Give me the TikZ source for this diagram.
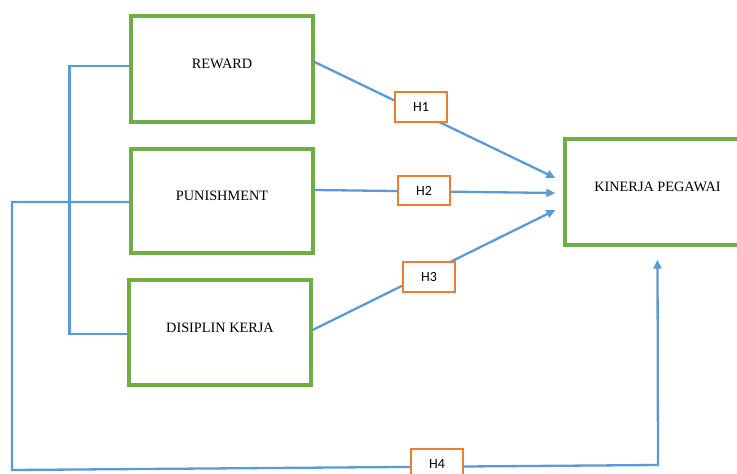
\documentclass[tikz,border=0pt]{standalone}
\usepackage{fontspec}
\setmainfont{Liberation Serif}
\newfontfamily\hfont{Carlito}
\usetikzlibrary{arrows.meta,calc}
\definecolor{vgreen}{RGB}{112,173,71}
\definecolor{vblue}{RGB}{91,155,213}
\definecolor{vorange}{RGB}{237,125,49}
\newcommand{\uptext}[1]{\raisebox{10pt}{#1}}
\begin{document}
\begin{tikzpicture}[x=1pt,y=-1pt,
 var/.style={draw=vgreen,line width=3.2pt,fill=white,inner sep=0pt,font=\fontsize{14.3}{16}\selectfont},
 hyp/.style={draw=vorange,line width=1.8pt,fill=white,inner sep=0pt,minimum width=52pt,minimum height=30pt,font=\hfont\fontsize{14}{16}\selectfont},
 conn/.style={draw=vblue,line width=2.3pt},
 arr/.style={conn,-{Triangle[length=9pt,width=8pt]}}]
\useasboundingbox (0,0) rectangle (737,474);
\node[var,minimum width=182pt,minimum height=106pt] (reward) at (222,69) {\uptext{REWARD}};
\node[var,minimum width=182pt,minimum height=104pt] (punish) at (222,201) {\uptext{PUNISHMENT}};
\node[var,minimum width=182pt,minimum height=105pt] (disiplin) at (220,332.5) {\uptext{DISIPLIN KERJA}};
\node[var,minimum width=185pt,minimum height=106pt] (kinerja) at (657.5,192) {\uptext{KINERJA PEGAWAI}};
% bracket
\draw[conn] ([yshift=3pt]reward.west) -- ++(-60,0) |- ([yshift=-1.5pt]disiplin.west);
% H4 path
\coordinate (c1) at (12,470);
\coordinate (c2) at (658,465);
\draw[arr] ([yshift=-1pt]punish.west) -| (c1) -- (c2) -- ([yshift=-13pt]kinerja.south);
% H1-H3 arrows
\draw[arr] ([yshift=7pt]reward.east) -- ([xshift=-8pt,yshift=14pt]kinerja.west);
\draw[arr] ([yshift=11pt]punish.east) -- ([xshift=-8pt,yshift=-1pt]kinerja.west);
\draw[arr] ([yshift=2.5pt]disiplin.east) -- ([xshift=-8pt,yshift=-18pt]kinerja.west);
% hypotheses
\node[hyp] (h1) at (421,107) {H1};
\node[hyp,minimum height=29pt] (h2) at (424,190.5) {H2};
\node[hyp] (h3) at (429,277) {H3};
\node[hyp,minimum height=32pt] (h4) at (437,465) {\raisebox{2pt}{H4}};
\end{tikzpicture}
\end{document}
